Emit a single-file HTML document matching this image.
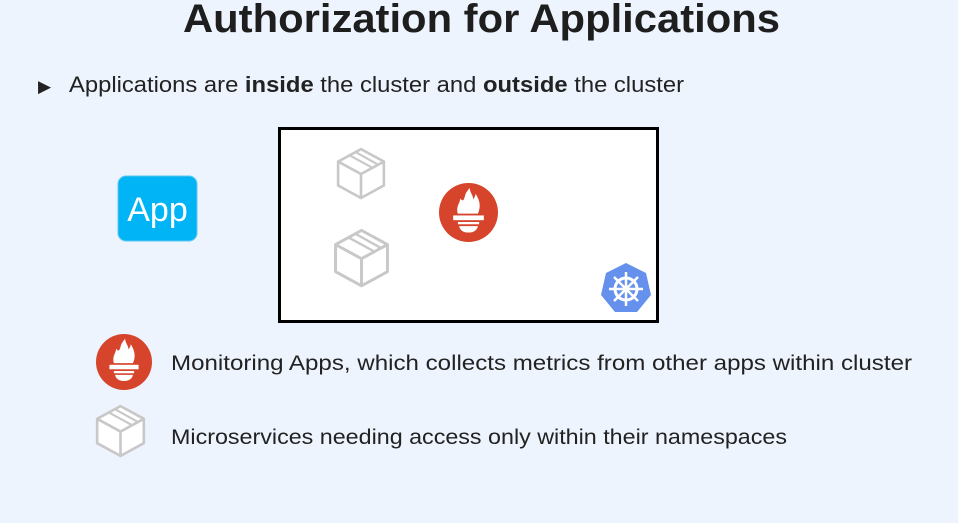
<!DOCTYPE html>
<html><head><meta charset="utf-8"><style>
html,body{margin:0;padding:0;background:#eef4fe;}
svg{display:block}
</style></head><body>
<svg width="958" height="523" viewBox="0 0 958 523" xmlns="http://www.w3.org/2000/svg">
<defs>
<g id="cube">
<path d="M50 4 L94 28 L94 74 L50 98 L6 74 L6 28 Z" fill="#fff" stroke="#c8c8c8" stroke-width="5" stroke-linejoin="round"/>
<path d="M6 28 L50 52 L94 28 M50 52 L50 98" fill="none" stroke="#c8c8c8" stroke-width="5"/>
<path d="M28 16 L72 40 M40 10 L83 34" fill="none" stroke="#c8c8c8" stroke-width="4"/>
</g>
<g id="prom">
<circle cx="50" cy="50" r="50" fill="#d6452b"/>
<path d="M32 52 C28 40 36 34 36 26 C40 32 42 30 44 22 C46 14 50 12 52 8 C52 16 58 20 58 28 C60 24 62 22 62 18 C68 28 72 38 66 52 Z" fill="#fff"/>
<rect x="24" y="55" width="52" height="8" fill="#fff"/>
<path d="M32 66 L68 66 L68 70 L32 70 Z" fill="#fff"/>
<path d="M34 73 L66 73 C64 82 56 84 50 84 C44 84 36 82 34 73 Z" fill="#fff"/>
</g>
</defs>
<text x="183" y="32" font-family="Liberation Sans, sans-serif" font-weight="bold" font-size="40" fill="#1e1e1e" textLength="597" lengthAdjust="spacingAndGlyphs">Authorization for Applications</text>
<text x="38" y="92" font-family="DejaVu Sans, sans-serif" font-size="17" fill="#222">▶</text>
<text x="69" y="92" font-family="Liberation Sans, sans-serif" font-size="22" fill="#222" textLength="615" lengthAdjust="spacingAndGlyphs">Applications are <tspan font-weight="bold">inside</tspan> the cluster and <tspan font-weight="bold">outside</tspan> the cluster</text>
<rect x="279.5" y="128.5" width="378" height="193" fill="#fff" stroke="#000" stroke-width="3"/>
<rect x="118" y="176" width="79" height="65" rx="8" fill="#00b4f5" stroke="#5fc8f0"/>
<text x="157.5" y="221" text-anchor="middle" font-family="Liberation Sans, sans-serif" font-size="34" fill="#fff">App</text>
<use href="#cube" transform="translate(335,147) scale(0.52)"/>
<use href="#cube" transform="translate(332,228) scale(0.59)"/>
<use href="#prom" transform="translate(439,183) scale(0.59)"/>
<g transform="translate(626,289)">
<path d="M0 -26 L20 -16 L25 6 L11 23 L-11 23 L-25 6 L-20 -16 Z" fill="#326ce5" opacity="0.75"/>
<circle r="11" fill="none" stroke="#fff" stroke-width="3"/>
<circle r="3" fill="#fff"/>
<path d="M0 -17 L0 17 M-17 0 L17 0 M-12 -12 L12 12 M12 -12 L-12 12" stroke="#fff" stroke-width="2.5"/>
</g>
<use href="#prom" transform="translate(96,334) scale(0.56)"/>
<use href="#cube" transform="translate(94,404) scale(0.53)"/>
<text x="171" y="370" font-family="Liberation Sans, sans-serif" font-size="21" fill="#222" textLength="741" lengthAdjust="spacingAndGlyphs">Monitoring Apps, which collects metrics from other apps within cluster</text>
<text x="171" y="444" font-family="Liberation Sans, sans-serif" font-size="21" fill="#222" textLength="616" lengthAdjust="spacingAndGlyphs">Microservices needing access only within their namespaces</text>
</svg>
</body></html>
